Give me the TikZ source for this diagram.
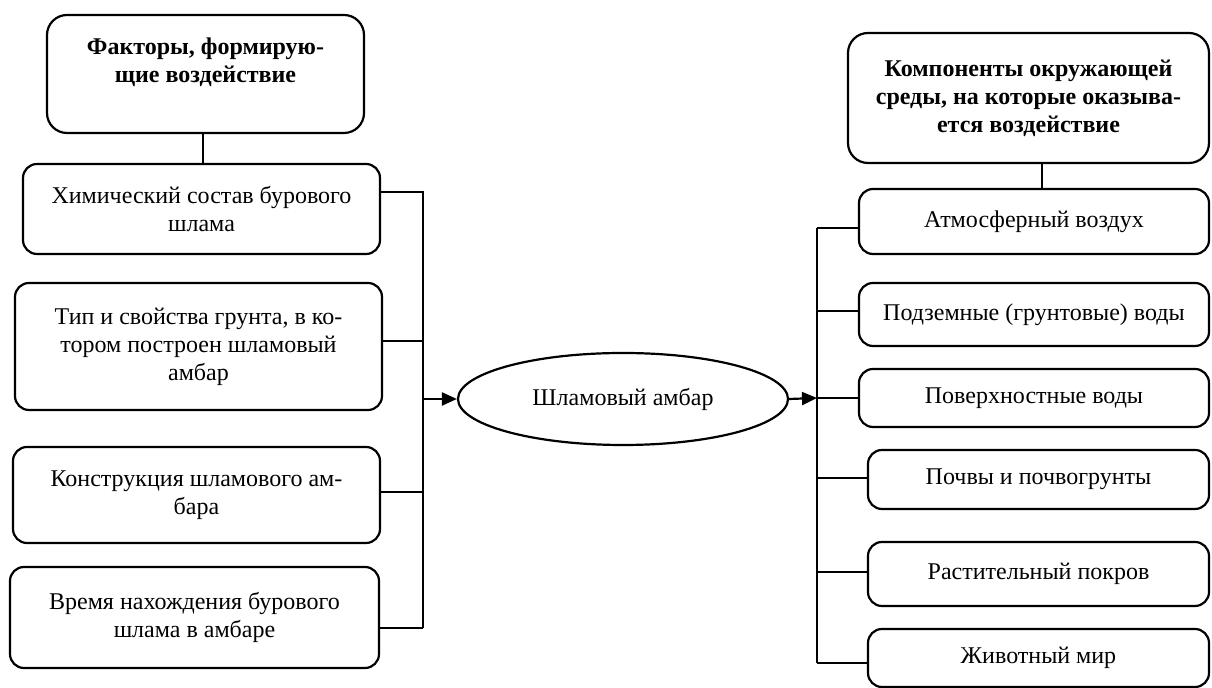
\documentclass[tikz,border=0pt]{standalone}
\usepackage{fontspec}
\setmainfont{Liberation Serif}
\usetikzlibrary{arrows.meta,shapes.geometric}
\tikzset{
  box/.style={draw, line width=1.1pt, rounded corners=7pt, align=center, inner sep=0pt,
    font=\fontsize{12}{14}\selectfont},
  hbox/.style={box, rounded corners=10pt, font=\fontsize{12}{14}\selectfont\bfseries},
  txt/.style={align=center, inner sep=0pt},
  ln/.style={line width=1.1pt},
  arr/.style={line width=1.1pt, -{Triangle[length=7.5pt,width=6.5pt]}},
}
\begin{document}
\begin{tikzpicture}[x=0.5pt,y=-0.5pt]
\useasboundingbox (0,0) rectangle (1212,688);
% left column
\node[hbox, minimum width=158.5pt, minimum height=59pt] (lh) at (205.5,74) {};
\node[txt, font=\fontsize{12}{14}\selectfont\bfseries] (lht) at (205.5,62) {Факторы, формирую-\\щие воздействие};
\node[box, minimum width=178.5pt, minimum height=45pt] (l1) at (201.5,209) {Химический состав бурового\\шлама};
\node[box, minimum width=183.5pt, minimum height=63.5pt] (l2) at (198.5,346.5) {Тип и свойства грунта, в ко-\\тором построен шламовый\\амбар};
\node[box, minimum width=183.5pt, minimum height=48pt] (l3) at (196.5,495) {Конструкция шламового ам-\\бара};
\node[box, minimum width=184.5pt, minimum height=50.5pt] (l4) at (194.5,617.5) {Время нахождения бурового\\шлама в амбаре};
% center
\node[draw, ellipse, line width=1.1pt, inner sep=0pt, minimum width=165pt, minimum height=46pt,
  font=\fontsize{12}{14}\selectfont] (amb) at (623,399) {Шламовый амбар};
% right column
\node[hbox, minimum width=180.5pt, minimum height=65pt] (rh) at (1028.5,98) {Компоненты окружающей\\среды, на которые оказыва-\\ется воздействие};
\node[box, minimum width=175pt, minimum height=32.5pt] (r1) at (1034,221.5) {Атмосферный воздух};
\node[box, minimum width=175pt, minimum height=31.5pt] (r2) at (1034,314.5) {Подземные (грунтовые) воды};
\node[box, minimum width=175pt, minimum height=29pt] (r3) at (1034,398) {Поверхностные воды};
\node[box, minimum width=170.5pt, minimum height=29.5pt] (r4) at (1038.5,479.5) {Почвы и почвогрунты};
\node[box, minimum width=170.5pt, minimum height=32pt] (r5) at (1038.5,574) {Растительный покров};
\node[box, minimum width=170.5pt, minimum height=29pt] (r6) at (1038.5,658) {Животный мир};
% bus coordinates
\coordinate (ly1) at (423,192);
\coordinate (ly2) at (423,341);
\coordinate (ly3) at (423,492);
\coordinate (ly4) at (423,628);
\coordinate (la) at (423,399);
\coordinate (ry1) at (817,228);
\coordinate (ry2) at (817,311);
\coordinate (ry3) at (817,398);
\coordinate (ry4) at (817,478);
\coordinate (ry5) at (817,572);
\coordinate (ry6) at (817,663);
% left connectors
\draw[ln] (lh.south -| 203,0) -- (l1.north -| 203,0);
\draw[ln] (l1.east |- ly1) -- (ly1) -- (ly4);
\draw[ln] (l2.east |- ly2) -- (ly2);
\draw[ln] (l3.east |- ly3) -- (ly3);
\draw[ln] (l4.east |- ly4) -- (ly4);
\draw[arr] (la) -- (amb.west);
% right connectors
\draw[ln] (rh.south -| 1042,0) -- (r1.north -| 1042,0);
\draw[ln] (ry1) -- (ry6);
\draw[ln] (ry1) -- (r1.west |- ry1);
\draw[ln] (ry2) -- (r2.west |- ry2);
\draw[arr] (amb.east) -- (ry3);
\draw[ln] (ry3) -- (r3.west |- ry3);
\draw[ln] (ry4) -- (r4.west |- ry4);
\draw[ln] (ry5) -- (r5.west |- ry5);
\draw[ln] (ry6) -- (r6.west |- ry6);
\end{tikzpicture}
\end{document}
